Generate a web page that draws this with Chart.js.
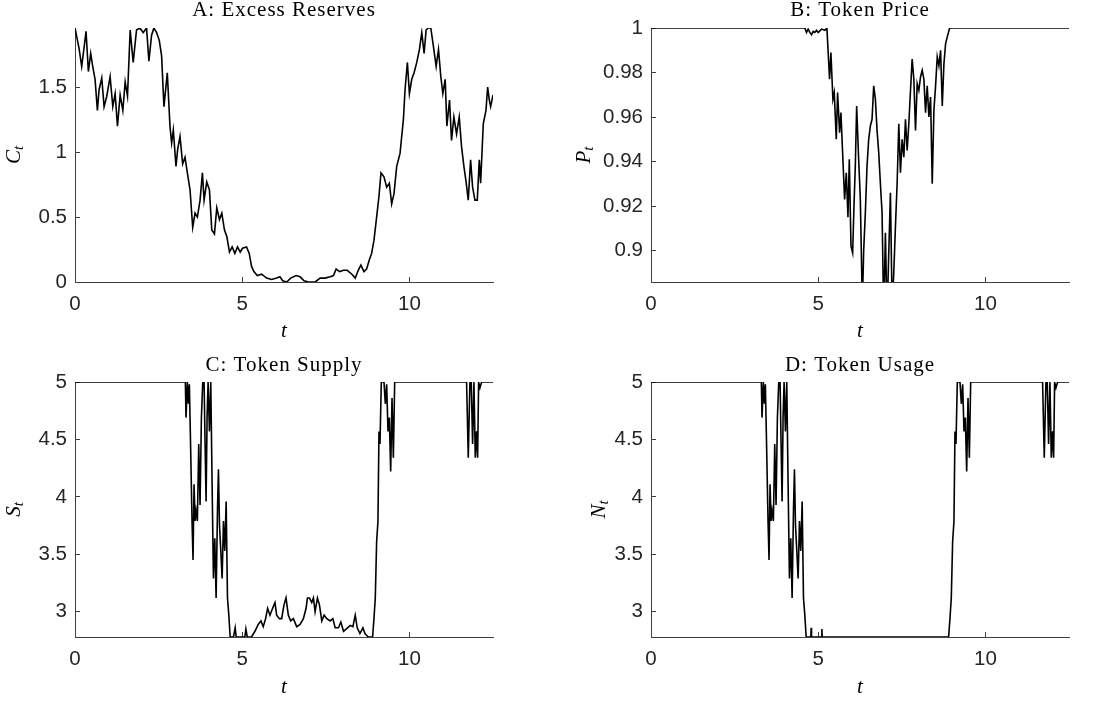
<!DOCTYPE html>
<html>
<head>
<meta charset="utf-8">
<script src="https://cdn.jsdelivr.net/npm/chart.js@4.4.1/dist/chart.umd.min.js"></script>
<style>
    body { margin: 0; background: #fff; }
    #wrap { position: relative; width: 1094px; height: 702px; }
    .panel { position: absolute; width: 547px; height: 351px; }
</style>
</head>
<body>
<div id="wrap">
    <div class="panel" style="left:0;top:0"><canvas id="chart_a"></canvas></div>
    <div class="panel" style="left:547px;top:0"><canvas id="chart_b"></canvas></div>
    <div class="panel" style="left:0;top:351px"><canvas id="chart_c"></canvas></div>
    <div class="panel" style="left:547px;top:351px"><canvas id="chart_d"></canvas></div>
</div>
<script>

// tick labels
const x_ticks = [0, 5, 10];
const ticks_a = [0, 0.5, 1, 1.5];
const ticks_b = [0.9, 0.92, 0.94, 0.96, 0.98, 1];
const ticks_cd = [3, 3.5, 4, 4.5, 5];

// A: excess reserves
const t_a = [0,0.05,0.12,0.2,0.25,0.33,0.4,0.47,0.53,0.6,0.67,0.72,0.8,0.87,0.95,1.05,1.13,1.2,1.27,1.35,
    1.43,1.5,1.57,1.65,1.74,1.84,1.94,2.04,2.14,2.21,2.29,2.36,2.44,2.52,2.59,2.66,2.76,2.84,2.89,2.94,
    3.02,3.07,3.14,3.22,3.29,3.36,3.44,3.52,3.59,3.66,3.74,3.81,3.86,3.94,4.02,4.09,4.17,4.24,4.32,4.39,
    4.47,4.54,4.62,4.7,4.78,4.86,4.94,5.01,5.13,5.21,5.28,5.35,5.45,5.58,5.73,5.88,6.03,6.13,6.21,6.33,
    6.45,6.61,6.73,6.85,6.98,7.18,7.33,7.48,7.63,7.73,7.81,7.91,8.03,8.14,8.28,8.38,8.47,8.55,8.64,8.72,
    8.8,8.87,8.94,9.02,9.09,9.15,9.24,9.32,9.4,9.47,9.54,9.62,9.72,9.82,9.87,9.94,10.0,10.07,10.14,10.22,
    10.3,10.37,10.44,10.5,10.57,10.64,10.72,10.8,10.87,10.94,11.0,11.07,11.12,11.2,11.26,11.33,11.41,11.49,11.56,11.63,
    11.69,11.76,11.83,11.89,11.96,12.03,12.09,12.13,12.21,12.29,12.34,12.39,12.43,12.5];
const reserves = [1.955,1.89,1.80,1.66,1.76,1.93,1.62,1.76,1.66,1.56,1.32,1.48,1.57,1.35,1.43,1.58,1.35,1.45,1.20,1.44,
    1.32,1.54,1.43,1.94,1.69,1.94,1.955,1.92,1.955,1.70,1.90,1.955,1.92,1.86,1.74,1.35,1.61,1.20,1.07,1.17,
    0.89,1.02,1.12,0.91,0.96,0.84,0.71,0.42,0.53,0.50,0.63,0.84,0.63,0.77,0.71,0.40,0.37,0.57,0.48,0.53,
    0.40,0.35,0.23,0.27,0.22,0.27,0.23,0.26,0.27,0.22,0.12,0.08,0.05,0.06,0.03,0.02,0.03,0.04,0.01,0.0,
    0.03,0.05,0.04,0.01,0.0,0.0,0.03,0.03,0.04,0.05,0.10,0.08,0.09,0.09,0.06,0.03,0.09,0.13,0.08,0.10,
    0.17,0.22,0.32,0.50,0.66,0.84,0.81,0.73,0.76,0.60,0.68,0.89,0.99,1.25,1.48,1.69,1.45,1.56,1.61,1.69,
    1.79,1.92,1.76,1.94,1.955,1.955,1.81,1.66,1.79,1.58,1.45,1.56,1.20,1.40,1.09,1.27,1.14,1.27,1.04,0.89,
    0.78,0.63,0.94,0.73,0.63,0.63,0.94,0.76,1.22,1.32,1.50,1.40,1.35,1.44];

// B: token price
const t_b = [0,4.6,4.65,4.7,4.75,4.8,4.85,4.9,4.95,5.0,5.1,5.2,5.26,
    5.34,5.38,5.44,5.48,5.54,5.58,5.64,5.68,5.73,5.79,5.84,5.89,5.93,5.98,6.03,6.07,6.11,6.15,6.21,6.26,
    6.32,6.36,6.41,6.46,6.51,6.56,6.61,6.66,6.71,6.76,6.81,6.86,6.91,6.96,7.01,7.06,7.11,7.16,7.21,7.26,
    7.31,7.36,7.41,7.46,7.51,7.56,7.61,7.66,7.71,7.76,7.81,7.86,7.91,7.96,8.01,8.06,8.11,8.16,8.21,8.26,
    8.31,8.36,8.41,8.46,8.51,8.56,8.61,8.66,8.71,8.76,8.81,8.86,8.93,12.5];
const price = [1,1,0.998,0.9995,0.998,0.997,0.9985,0.998,0.999,0.998,0.9995,0.999,1,
    0.977,0.989,0.968,0.971,0.950,0.971,0.953,0.962,0.944,0.923,0.935,0.915,0.941,0.902,0.899,0.920,0.938,0.965,0.941,0.923,
    0.875,0.900,0.917,0.938,0.950,0.956,0.959,0.974,0.968,0.954,0.944,0.930,0.917,0.87,0.908,0.87,0.899,0.926,0.875,0.890,
    0.911,0.930,0.957,0.935,0.950,0.942,0.959,0.945,0.957,0.972,0.986,0.977,0.954,0.975,0.972,0.978,0.981,0.977,0.962,0.974,
    0.960,0.969,0.930,0.963,0.974,0.987,0.983,0.990,0.965,0.984,0.993,0.996,1,1];

// C: token supply
const t_c = [0,3.3,3.32,3.36,3.39,3.42,3.46,3.5,3.53,3.56,3.59,3.62,3.66,3.7,3.74,3.78,3.82,3.86,3.89,3.92,
    3.95,3.98,4.02,4.06,4.1,4.14,4.18,4.22,4.26,4.29,4.32,4.36,4.4,4.44,4.48,4.52,4.56,4.6,4.64,4.74,
    4.79,4.82,5.08,5.11,5.15,5.28,5.38,5.48,5.56,5.63,5.7,5.76,5.83,5.91,5.98,6.03,6.11,6.18,6.25,6.31,
    6.38,6.45,6.53,6.63,6.73,6.83,6.91,6.95,7.01,7.08,7.13,7.18,7.25,7.31,7.38,7.45,7.53,7.63,7.71,7.78,
    7.88,7.95,8.03,8.15,8.23,8.31,8.38,8.44,8.52,8.61,8.67,8.77,8.9,8.94,8.98,9.02,9.06,9.09,9.12,9.16,
    9.24,9.28,9.32,9.36,9.4,9.44,9.48,9.52,9.56,11.71,11.76,11.81,11.85,11.89,11.93,11.97,12.01,12.04,12.07,12.11,
    12.16,12.5];
const supply = [5,5,4.69,5,4.81,4.98,4.40,3.79,3.45,4.11,3.79,3.88,3.79,4.46,3.93,4.69,5,5,4.46,3.96,
    4.69,5,4.57,5,4.11,3.29,3.64,3.12,3.88,4.24,3.76,3.53,3.29,3.79,3.53,3.96,3.12,2.97,2.78,2.78,
    2.86,2.78,2.78,2.85,2.78,2.78,2.83,2.89,2.92,2.87,2.94,3.03,2.97,3.03,3.08,2.97,2.94,2.94,3.06,3.12,
    2.97,2.92,2.94,2.87,2.89,2.94,3.03,3.12,3.12,3.08,3.12,3.00,3.12,3.06,2.92,2.97,2.94,2.92,2.94,2.86,
    2.86,2.91,2.83,2.86,2.88,2.87,2.97,2.86,2.81,2.86,2.81,2.78,2.78,2.94,3.12,3.61,3.79,4.57,4.46,5,
    5,4.81,4.98,4.57,4.69,4.22,4.86,4.34,5,5,4.34,5,5,4.46,5,4.34,4.57,4.34,5,4.95,
    5,5];

// D: token usage
const t_d = [0,3.3,3.32,3.36,3.39,3.42,3.46,3.5,3.53,3.56,3.59,3.62,3.66,3.7,3.74,3.78,3.82,3.86,3.89,3.92,
    3.95,3.98,4.02,4.06,4.1,4.14,4.18,4.22,4.26,4.29,4.32,4.36,4.4,4.44,4.48,4.52,4.56,4.6,4.64,
    4.78,4.79,4.8,5.1,5.11,5.12,8.9,
    8.94,8.98,9.02,9.06,9.09,9.12,9.16,9.24,9.28,9.32,9.36,9.4,9.44,9.48,9.52,9.56,
    11.71,11.76,11.81,11.85,11.89,11.93,11.97,12.01,12.04,12.07,12.11,12.16,12.5];
const usage = [5,5,4.69,5,4.81,4.98,4.40,3.79,3.45,4.11,3.79,3.88,3.79,4.46,3.93,4.69,5,5,4.46,3.96,
    4.69,5,4.57,5,4.11,3.29,3.64,3.12,3.88,4.24,3.76,3.53,3.29,3.79,3.53,3.96,3.12,2.97,2.78,
    2.78,2.86,2.78,2.78,2.85,2.78,2.78,
    2.94,3.12,3.61,3.79,4.57,4.46,5,5,4.81,4.98,4.57,4.69,4.22,4.86,4.34,5,
    5,4.34,5,5,4.46,5,4.34,4.57,4.34,5,4.95,5,5];

const axis_col = '#404040';
const tick_col = '#262626';

// title over the plot area and y label with a subscript t
const panel_labels = {
    id: 'panel_labels',
    afterDraw(chart, args, opts) {
        const ctx = chart.ctx;
        const area = chart.chartArea;
        ctx.save();
        ctx.fillStyle = '#000';
        ctx.textAlign = 'center';
        ctx.textBaseline = 'alphabetic';
        ctx.font = '21px "Liberation Serif"';
        ctx.letterSpacing = '1px';
        ctx.fillText(opts.title, (area.left + area.right) / 2, area.top - opts.title_gap);
        ctx.letterSpacing = '0px';

        ctx.translate(area.left - opts.ylabel_gap, (area.top + area.bottom) / 2);
        ctx.rotate(-Math.PI / 2);
        ctx.font = 'italic 21px "Liberation Serif"';
        const w1 = ctx.measureText(opts.ylabel).width;
        ctx.font = 'italic 15px "Liberation Serif"';
        const w2 = ctx.measureText('t').width;
        const x0 = -(w1 + w2) / 2;
        ctx.textAlign = 'left';
        ctx.font = 'italic 21px "Liberation Serif"';
        ctx.fillText(opts.ylabel, x0, 0);
        ctx.font = 'italic 15px "Liberation Serif"';
        ctx.fillText('t', x0 + w1, 3);
        ctx.restore();
    }
};

function make_panel(id, t_vals, y_vals, y_min, y_max, y_ticks, cfg) {
    const elem = document.getElementById(id).getContext('2d');
    const points = t_vals.map((t, i) => ({x: t, y: y_vals[i]}));

    return new Chart(elem, {
        type: 'line',
        data: {
            datasets: [{
                data: points,
                borderColor: '#000',
                borderWidth: 1.6,
                pointRadius: 0,
                tension: 0,
                fill: false
            }]
        },
        options: {
            responsive: true,
            maintainAspectRatio: false,
            animation: false,
            layout: {
                padding: {top: cfg.top, right: cfg.right, left: 0, bottom: 0}
            },
            plugins: {
                legend: {display: false},
                tooltip: {enabled: false},
                panel_labels: {
                    title: cfg.title,
                    ylabel: cfg.ylabel,
                    title_gap: cfg.title_gap,
                    ylabel_gap: cfg.ylabel_gap
                }
            },
            scales: {
                x: {
                    type: 'linear',
                    min: 0,
                    max: 12.5,
                    afterBuildTicks: s => { s.ticks = x_ticks.map(v => ({value: v})); },
                    afterFit: s => { s.height = cfg.x_height; },
                    grid: {drawOnChartArea: false, tickLength: -5, color: axis_col},
                    border: {color: axis_col, width: 1},
                    ticks: {
                        color: tick_col,
                        font: {family: 'Liberation Sans', size: 20.5},
                        padding: 15,
                        maxRotation: 0,
                        autoSkip: false,
                        callback: v => String(v)
                    },
                    title: {
                        display: true,
                        text: 't',
                        color: '#000',
                        font: {family: 'Liberation Serif', style: 'italic', size: 21, lineHeight: 1},
                        padding: {top: 0, bottom: cfg.t_pad}
                    }
                },
                y: {
                    type: 'linear',
                    min: y_min,
                    max: y_max,
                    afterBuildTicks: s => { s.ticks = y_ticks.map(v => ({value: v})); },
                    afterFit: s => { s.width = cfg.y_width; },
                    grid: {drawOnChartArea: false, tickLength: -5, color: axis_col},
                    border: {color: axis_col, width: 1},
                    ticks: {
                        color: tick_col,
                        font: {family: 'Liberation Sans', size: 20.5},
                        padding: 13,
                        autoSkip: false,
                        callback: v => String(v)
                    }
                }
            }
        },
        plugins: [panel_labels]
    });
}

make_panel('chart_a', t_a, reserves, 0, 1.955, ticks_a, {
    title: 'A: Excess Reserves', ylabel: 'C', top: 28, right: 54, y_width: 75,
    x_height: 69, t_pad: 9, title_gap: 12, ylabel_gap: 55
});
make_panel('chart_b', t_b, price, 0.8859, 1, ticks_b, {
    title: 'B: Token Price', ylabel: 'P', top: 28, right: 25, y_width: 104,
    x_height: 69, t_pad: 9, title_gap: 12, ylabel_gap: 61
});
make_panel('chart_c', t_c, supply, 2.78, 5, ticks_cd, {
    title: 'C: Token Supply', ylabel: 'S', top: 31, right: 54, y_width: 75,
    x_height: 65, t_pad: 4.5, title_gap: 11, ylabel_gap: 55
});
make_panel('chart_d', t_d, usage, 2.78, 5, ticks_cd, {
    title: 'D: Token Usage', ylabel: 'N', top: 31, right: 25, y_width: 104,
    x_height: 65, t_pad: 4.5, title_gap: 11, ylabel_gap: 46
});

</script>
</body>
</html>
